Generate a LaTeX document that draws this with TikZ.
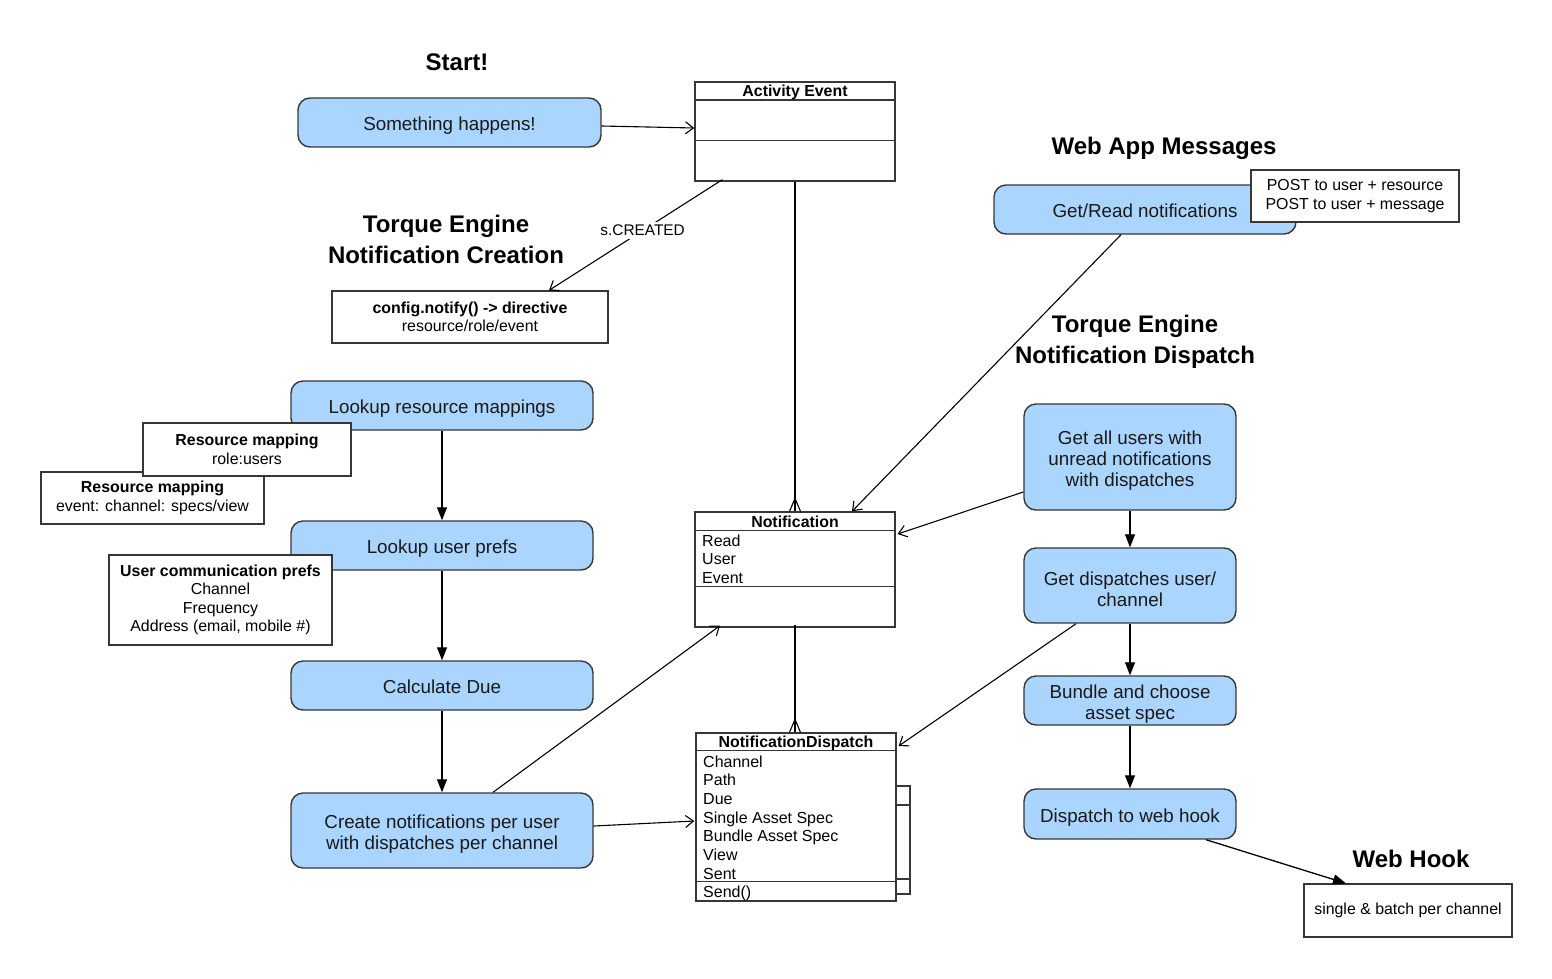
\documentclass[tikz,border=0pt]{standalone}
\usepackage{fontspec}
\setmainfont{Liberation Sans}
\usetikzlibrary{arrows.meta,calc}
\definecolor{boxblue}{RGB}{170,213,255}
\definecolor{edgegray}{RGB}{55,55,55}
\definecolor{txt}{RGB}{25,25,25}
\newcommand{\tallfirst}{\rule{0pt}{21.5pt}}
\tikzset{
  x=1pt, y=-1pt,
  flow/.style={draw=edgegray, line width=1.4pt, fill=boxblue, rounded corners=12pt,
    align=center, inner sep=0pt, text=txt, font=\fontsize{18.8}{21}\selectfont},
  single/.style={execute at begin node={\rule{0pt}{21pt}}, execute at end node={\rule[-4.6pt]{0pt}{4.6pt}}},
  note/.style={draw=edgegray, line width=1.3pt, fill=white, align=center, inner sep=0pt,
    text=black, font=\fontsize{15.9}{18.5}\selectfont},
  cls/.style={draw=edgegray, line width=1.3pt, fill=white, inner sep=0pt},
  clsline/.style={draw=edgegray, line width=1.3pt},
  clshead/.style={font=\bfseries\fontsize{15.9}{17}\selectfont, anchor=base, inner sep=0pt},
  attr/.style={font=\fontsize{16}{18}\selectfont, anchor=base west, inner sep=0pt},
  title/.style={font=\bfseries\fontsize{24}{31}\selectfont, align=center, inner sep=0pt},
  openarr/.style={draw=black, line width=1.1pt, -{Straight Barb[length=8pt,width=12pt,line width=1.1pt]}},
  fillarr/.style={draw=black, line width=1.3pt, -{Triangle[length=13pt,width=10pt]}},
  plain/.style={draw=black, line width=1.1pt},
}
\begin{document}
\begin{tikzpicture}
\useasboundingbox[fill=white] (0,0) rectangle (1552,978);

% titles
\node[title] (tstart) at (457,62) {Start!};
\node[title] (tcreate) at (446,239) {Torque Engine\\Notification Creation};
\node[title] (twebapp) at (1164,148) {Web App Messages};
\node[title] (tdispatch) at (1135,342) {Torque Engine\\Notification Dispatch};
\node[title] (twebhook) at (1411,859) {Web Hook};

% blue flow boxes
\node[flow, single, minimum width=303, minimum height=49] (sh) at (449.5,122.5) {Something happens!};
\node[flow, single, minimum width=302, minimum height=49] (lr) at (442,405.5) {Lookup resource mappings};
\node[flow, single, minimum width=302, minimum height=49] (lu) at (442,545.5) {Lookup user prefs};
\node[flow, single, minimum width=302, minimum height=49] (cd) at (442,685.5) {Calculate Due};
\node[flow, minimum width=302, minimum height=75] (cn) at (442,830.5) {\tallfirst Create notifications per user\\with dispatches per channel};
\node[flow, single, minimum width=302, minimum height=49] (gr) at (1145,209.5) {Get/Read notifications};
\node[flow, minimum width=212, minimum height=106] (ga) at (1130,457) {\tallfirst Get all users with\\unread notifications\\with dispatches};
\node[flow, minimum width=212, minimum height=75] (gd) at (1130,585.5) {\tallfirst Get dispatches user/\\channel};
\node[flow, minimum width=212, minimum height=49] (bc) at (1130,700.5) {\tallfirst Bundle and choose\\asset spec};
\node[flow, single, minimum width=212, minimum height=50] (dw) at (1130,814) {Dispatch to web hook};

% white note boxes
\node[note, minimum width=276, minimum height=52] (cfg) at (470,317) {\textbf{config.notify() -> directive}\\resource/role/event};
\node[note, minimum width=223, minimum height=52] (rm2) at (152.5,498) {\textbf{Resource mapping}\\event: channel: specs/view};
\node[note, minimum width=208, minimum height=53] (rm1) at (247,449.5) {\textbf{Resource mapping}\\role:users};
\node[note, minimum width=223, minimum height=90] (ucp) at (220.5,600) {\textbf{User communication prefs}\\Channel\\Frequency\\Address (email, mobile \#)};
\node[note, minimum width=208, minimum height=52] (post) at (1355,196) {POST to user + resource\\POST to user + message};
\node[note, minimum width=208, minimum height=53] (whb) at (1408,910.5) {single \& batch per channel};

% class: Activity Event
\node[cls, minimum width=200, minimum height=99] (ae) at (795,131.5) {};
\draw[clsline] ($(ae.north west)+(0,18.5)$) -- ($(ae.north east)+(0,18.5)$);
\draw[clsline] ($(ae.north west)+(0,59)$) -- ($(ae.north east)+(0,59)$);
\node[clshead] (aeh) at (795,96.5) {Activity Event};

% class: Notification
\node[cls, minimum width=200, minimum height=115] (nt) at (795,569.5) {};
\draw[clsline] ($(nt.north west)+(0,19)$) -- ($(nt.north east)+(0,19)$);
\draw[clsline] ($(nt.north west)+(0,75)$) -- ($(nt.north east)+(0,75)$);
\node[clshead] (nth) at (795,527) {Notification};
\node[attr] (nta1) at (702,546) {Read};
\node[attr] (nta2) at (702,564.5) {User};
\node[attr] (nta3) at (702,583) {Event};

% class: NotificationDispatch
\draw[clsline] (896,786) rectangle (910,894);
\draw[clsline] (896,805) -- (910,805);
\draw[clsline] (896,879) -- (910,879);
\node[cls, minimum width=200, minimum height=168] (nd) at (796,817) {};
\draw[clsline] ($(nd.north west)+(0,18)$) -- ($(nd.north east)+(0,18)$);
\draw[clsline] ($(nd.north west)+(0,149)$) -- ($(nd.north east)+(0,149)$);
\node[clshead] (ndh) at (796,747.5) {NotificationDispatch};
\node[attr] (nda1) at (703,767) {Channel};
\node[attr] (nda2) at (703,785.5) {Path};
\node[attr] (nda3) at (703,804) {Due};
\node[attr] (nda4) at (703,823) {Single Asset Spec};
\node[attr] (nda5) at (703,841.5) {Bundle Asset Spec};
\node[attr] (nda6) at (703,860) {View};
\node[attr] (nda7) at (703,879) {Sent};
\node[attr] (nda8) at (703,897) {Send()};

% connectors
\draw[openarr] ($(sh.east)+(0,3.5)$) -- ($(ae.west)+(0,-3.5)$);
\draw[openarr] ($(ae.south west)+(28,-2)$) -- node[pos=0.46, fill=white, inner sep=3pt, font=\fontsize{15.4}{17}\selectfont] (lbl) {s.CREATED} ($(cfg.north)+(79,0)$);
% Activity Event -> Notification (crow's foot)
\draw[plain] (ae.south) -- (nt.north);
\draw[plain] ($(nt.north)+(-5.5,0)$) -- ($(nt.north)+(0,-13)$) -- ($(nt.north)+(5.5,0)$);
% Notification -> NotificationDispatch (crow's foot)
\draw[plain] ($(nt.south)+(0,-3)$) -- ($(nd.north)+(-1,0)$);
\draw[plain] ($(nd.north)+(-6.5,0)$) -- ($(nd.north)+(-1,-13)$) -- ($(nd.north)+(4.5,0)$);

\draw[openarr] ($(gr.south)+(-24,0)$) -- ($(nt.north)+(57,0)$);
\draw[openarr] ($(ga.west)+(0,35)$) -- ($(nt.east)+(2,-35.5)$);
\draw[openarr] ($(gd.south)+(-54,0)$) -- ($(nd.east)+(2,-71)$);
\draw[openarr] ($(cn.north)+(51,0)$) -- ($(nt.south)+(-75,-2)$);
\draw[openarr] ($(cn.east)+(0,-4.5)$) -- ($(nd.west)+(-1,4)$);

\draw[fillarr] (lr.south) -- (lu.north);
\draw[fillarr] (lu.south) -- (cd.north);
\draw[fillarr] (cd.south) -- (cn.north);
\draw[fillarr] (ga.south) -- (gd.north);
\draw[fillarr] (gd.south) -- (bc.north);
\draw[fillarr] (bc.south) -- (dw.north);
\draw[fillarr] ($(dw.south)+(76,0)$) -- ($(whb.north)+(-62,0)$);
\end{tikzpicture}
\end{document}
